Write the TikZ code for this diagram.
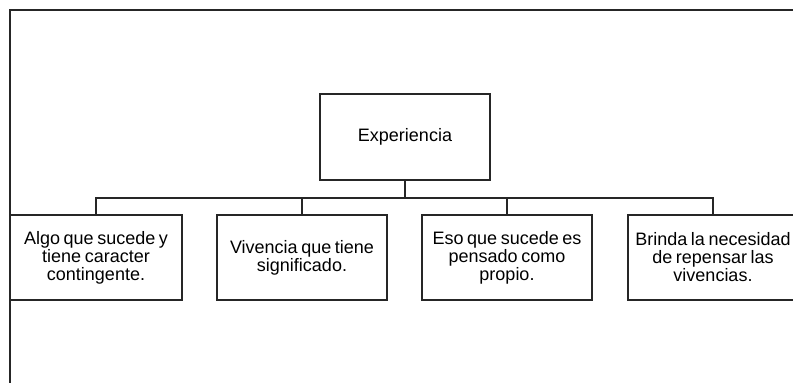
\documentclass[tikz,border=0pt]{standalone}
\usepackage{fontspec}
\setmainfont{Liberation Sans}
\begin{document}
\begin{tikzpicture}[x=1pt,y=-1pt,
  boxstyle/.style={draw=black!85, line width=1.1pt, rectangle, inner sep=0pt,
    minimum width=170pt, minimum height=85pt, align=center,
    font={\fontsize{18}{18}\selectfont\spaceskip=0.2em plus 0.1em\relax}},
  linkstyle/.style={draw=black!85, line width=1.1pt}]
\useasboundingbox (0,0) rectangle (793,383);
% frame
\draw[linkstyle] (10,390) -- (10,10) -- (800,10);
% root
\node[boxstyle, minimum height=86pt] (root) at (405,137) {Experiencia};
% children
\node[boxstyle, minimum width=172pt] (c1) at (96,257.5) {Algo que sucede y\\tiene caracter\\contingente.};
\node[boxstyle] (c2) at (302,257.5) {Vivencia que tiene\\significado.};
\node[boxstyle] (c3) at (507,257.5) {Eso que sucede es\\pensado como\\propio.};
\node[boxstyle] (c4) at (713,257.5) {Brinda la necesidad\\de repensar las\\vivencias.};
% connectors
\coordinate (bus) at (405,198);
\draw[linkstyle] (root.south) -- (bus);
\draw[linkstyle] (c1.north) |- (bus) -| (c4.north);
\draw[linkstyle] (c2.north) -- (c2.north |- bus);
\draw[linkstyle] (c3.north) -- (c3.north |- bus);
\end{tikzpicture}
\end{document}
